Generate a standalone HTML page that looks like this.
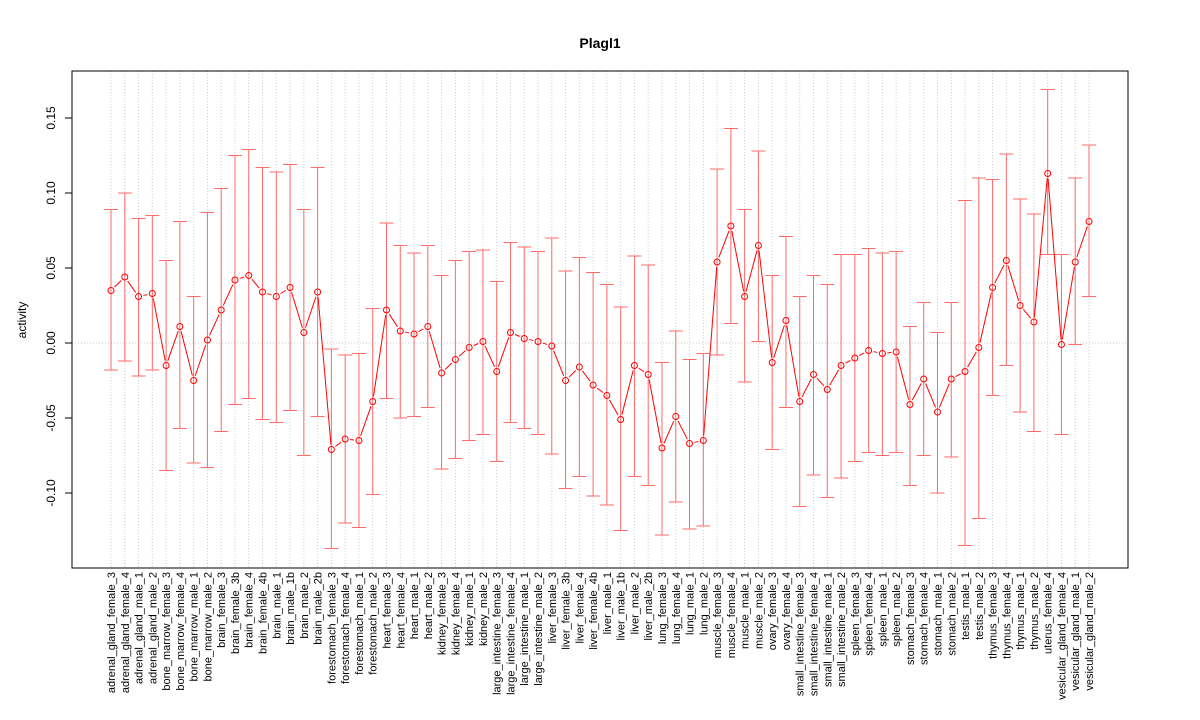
<!DOCTYPE html>
<html><head><meta charset="utf-8"><style>
html,body{margin:0;padding:0;background:#fff;}
svg{display:block;font-family:"Liberation Sans",sans-serif;}
</style></head><body>
<svg id="chart" width="1200" height="720" viewBox="0 0 1200 720">
<text x="600" y="48" text-anchor="middle" font-size="14" font-weight="bold">Plagl1</text>
<text transform="translate(26,320) rotate(-90)" text-anchor="middle" font-size="12">activity</text>
<g id="grid"></g><g id="bars"></g><g id="series"></g><g id="axes"></g>
<rect x="72" y="71" width="1056" height="497" fill="none" stroke="#000" stroke-width="1"/>
</svg>
<script>
const categories=["adrenal_gland_female_3","adrenal_gland_female_4","adrenal_gland_male_1","adrenal_gland_male_2","bone_marrow_female_3","bone_marrow_female_4","bone_marrow_male_1","bone_marrow_male_2","brain_female_3","brain_female_3b","brain_female_4","brain_female_4b","brain_male_1","brain_male_1b","brain_male_2","brain_male_2b","forestomach_female_3","forestomach_female_4","forestomach_male_1","forestomach_male_2","heart_female_3","heart_female_4","heart_male_1","heart_male_2","kidney_female_3","kidney_female_4","kidney_male_1","kidney_male_2","large_intestine_female_3","large_intestine_female_4","large_intestine_male_1","large_intestine_male_2","liver_female_3","liver_female_3b","liver_female_4","liver_female_4b","liver_male_1","liver_male_1b","liver_male_2","liver_male_2b","lung_female_3","lung_female_4","lung_male_1","lung_male_2","muscle_female_3","muscle_female_4","muscle_male_1","muscle_male_2","ovary_female_3","ovary_female_4","small_intestine_female_3","small_intestine_female_4","small_intestine_male_1","small_intestine_male_2","spleen_female_3","spleen_female_4","spleen_male_1","spleen_male_2","stomach_female_3","stomach_female_4","stomach_male_1","stomach_male_2","testis_male_1","testis_male_2","thymus_female_3","thymus_female_4","thymus_male_1","thymus_male_2","uterus_female_4","vesicular_gland_female_4","vesicular_gland_male_1","vesicular_gland_male_2"];
const activity=[.035,.044,.031,.033,-.015,.011,-.025,.002,.022,.042,.045,.034,.031,.037,.007,.034,-.071,-.064,-.065,-.039,.022,.008,.006,.011,-.020,-.011,-.003,.001,-.019,.007,.003,.001,-.002,-.025,-.016,-.028,-.035,-.051,-.015,-.021,-.070,-.049,-.067,-.065,.054,.078,.031,.065,-.013,.015,-.039,-.021,-.031,-.015,-.010,-.005,-.007,-.006,-.041,-.024,-.046,-.024,-.019,-.003,.037,.055,.025,.014,.113,-.001,.054,.081];
const upper=[.089,.100,.083,.085,.055,.081,.031,.087,.103,.125,.129,.117,.114,.119,.089,.117,-.004,-.008,-.007,.023,.080,.065,.060,.065,.045,.055,.061,.062,.041,.067,.064,.061,.070,.048,.057,.047,.039,.024,.058,.052,-.013,.008,-.011,-.007,.116,.143,.089,.128,.045,.071,.031,.045,.039,.059,.059,.063,.060,.061,.011,.027,.007,.027,.095,.110,.109,.126,.096,.086,.169,.059,.110,.132];
const lower=[-.018,-.012,-.022,-.018,-.085,-.057,-.080,-.083,-.059,-.041,-.037,-.051,-.053,-.045,-.075,-.049,-.137,-.120,-.123,-.101,-.037,-.050,-.049,-.043,-.084,-.077,-.065,-.061,-.079,-.053,-.057,-.061,-.074,-.097,-.089,-.102,-.108,-.125,-.089,-.095,-.128,-.106,-.124,-.122,-.008,.013,-.026,.001,-.071,-.043,-.109,-.088,-.103,-.090,-.079,-.073,-.075,-.073,-.095,-.075,-.100,-.076,-.135,-.117,-.035,-.015,-.046,-.059,.059,-.061,-.001,.031];
const yTicks=[-0.10,-0.05,0.00,0.05,0.10,0.15];
const yTickLabels=["-0.10","-0.05","0.00","0.05","0.10","0.15"];

const NS="http://www.w3.org/2000/svg";
const xS=i=>111+i*(1089-111)/(categories.length-1);
const yS=v=>343-v*1500;
function mk(tag,parent,attrs){const e=document.createElementNS(NS,tag);for(const k in attrs)e.setAttribute(k,attrs[k]);parent.appendChild(e);return e;}
const grid=document.getElementById('grid'),bars=document.getElementById('bars'),series=document.getElementById('series'),axes=document.getElementById('axes');
categories.forEach((c,i)=>{
  const x=xS(i);
  const g=mk('line',grid,{x1:x,x2:x,y1:71,y2:568,stroke:'#ccc','stroke-dasharray':'1,2'});
  
  
  const t=mk('text',axes,{transform:`translate(${x+4},572) rotate(-90)`,'text-anchor':'end','font-size':'11'});
  t.textContent=c;
  
  
  const eb=mk('path',bars,{d:`M${x},${yS(upper[i])}V${yS(lower[i])}M${x-7},${yS(upper[i])}H${x+7}M${x-7},${yS(lower[i])}H${x+7}`,stroke:'#ff6a6a',fill:'none','stroke-width':'1'});
  
  
});
const h0=mk('line',grid,{x1:72,x2:1128,y1:yS(0),y2:yS(0),stroke:'#ccc','stroke-dasharray':'1,2'});


for(let i=0;i<activity.length-1;i++){
  const x1=xS(i),y1=yS(activity[i]),x2=xS(i+1),y2=yS(activity[i+1]);
  const dx=x2-x1,dy=y2-y1,L=Math.hypot(dx,dy),g=5;
  if(L>2*g){
    const s=mk('line',series,{x1:x1+dx*g/L,y1:y1+dy*g/L,x2:x2-dx*g/L,y2:y2-dy*g/L,stroke:'#f00','stroke-width':'1'});
    
    
  }
}
activity.forEach((v,i)=>{
  const p=mk('circle',series,{cx:xS(i),cy:yS(v),r:3,fill:'none',stroke:'#f00','stroke-width':'1'});
  
  
});
yTicks.forEach((v,i)=>{
  const y=yS(v);
  const tk=mk('line',axes,{x1:65,x2:72,y1:y,y2:y,stroke:'#000'});
  
  
  const t=mk('text',axes,{transform:`translate(55,${y}) rotate(-90)`,'text-anchor':'middle','font-size':'12'});
  t.textContent=yTickLabels[i];
  
  
});
</script>
</body></html>
